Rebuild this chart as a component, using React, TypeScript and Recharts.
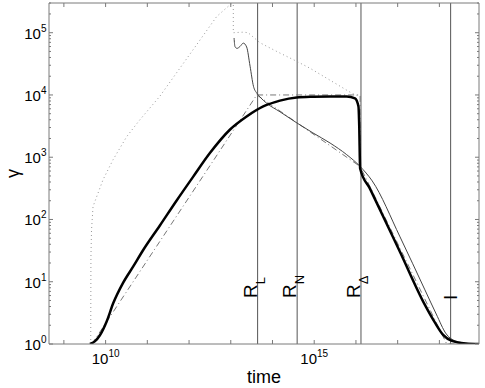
import { Line, LineChart, ReferenceLine, XAxis, YAxis } from 'recharts';

const FONT = '"Liberation Sans", Arial, Helvetica, sans-serif';
const AXIS = '#7a7a7a';

// axis ranges (log-log)
const X_MIN = 4.4e8;
const X_MAX = 8.9e18;
const Y_MIN = 1;
const Y_MAX = 3.0e5;

const xTickExps = [9, 10, 11, 12, 13, 14, 15, 16, 17, 18];
const xLabelExps = [10, 15];
const yTickExps = [0, 1, 2, 3, 4, 5];
const yMinorMults = [2, 3, 4, 5, 6, 7, 8, 9];

// thick curve
const thickT = [4.2e9, 5.5e9, 7.3e9, 1.06e10, 1.52e10, 2.6e10, 4.6e10, 7.9e10, 2.0e11, 5.0e11, 1.26e12, 3.16e12, 9.5e12, 2.4e13, 6.0e13, 1.51e14, 3.8e14, 9.5e14, 2.4e15, 6.0e15, 9.5e15, 1.15e16, 1.2e16, 1.26e16, 2.18e16, 1.14e17, 4.5e17, 7.9e17, 1.23e18, 2.0e18, 4.2e18, 8.9e18];
const thickG = [1, 1.1, 1.38, 2.3, 4.5, 9.5, 17.6, 32, 80, 200, 488, 1165, 2760, 4500, 6530, 8100, 9100, 9350, 9450, 9450, 8800, 6500, 3100, 660, 310, 30, 4.24, 2.18, 1.4, 1.12, 1.02, 1.0];

// thin curve
const thinT = [1.2e13, 1.26e13, 1.41e13, 1.66e13, 2.0e13, 2.4e13, 2.9e13, 3.5e13, 4.2e13, 5.0e13, 7.2e13, 1.51e14, 3.8e14, 9.3e14, 2.4e15, 6.0e15, 1.26e16, 2.45e16, 1.14e17, 4.5e17, 8.4e17, 1.46e18, 2.4e18, 5.0e18, 8.9e18];
const thinG = [82000, 60000, 56000, 60000, 68000, 59000, 29000, 13800, 10700, 9300, 7400, 5370, 3570, 2460, 1690, 1100, 710, 417, 52.5, 7.4, 3.03, 1.45, 1.12, 1.02, 1.0];

// dotted curve
const dotT = [4.4e9, 4.45e9, 4.6e9, 5.0e9, 8.7e9, 1.51e10, 3.2e10, 6.6e10, 2.0e11, 1.26e12, 4.6e12, 1.01e13, 1.15e13, 1.15e13, 2.0e13, 2.6e13, 5.0e13, 1.26e14, 3.8e14, 7.9e14, 7.9e15, 1.07e16];
const dotG = [1, 25, 68, 162, 437, 912, 2140, 3980, 9550, 53700, 182000, 290000, 290000, 100000, 102000, 100000, 69000, 50000, 34700, 26900, 10700, 9800];

// dash-dot approximations
const approxAT = [4.7e9, 4.2e13, 1.26e16, 1.26e16];
const approxAG = [1, 10000, 10000, 710];
const approxBT = [4.2e13, 1.26e16, 1.5e18, 8.9e18];
const approxBG = [10000, 710, 1, 1];

// vertical markers
const markT = [4.4e13, 3.9e14, 1.32e16, 1.86e18];
const markMain = ['R', 'R', 'R', 'I'];
const markSub = ['L', 'N', 'Δ', ''];

const toRows = (t: number[], g: number[]) => t.map((v, i) => ({ t: v, g: g[i] }));

const thick = toRows(thickT, thickG);
const thin = toRows(thinT, thinG);
const dotted = toRows(dotT, dotG);
const approxA = toRows(approxAT, approxAG);
const approxB = toRows(approxBT, approxBG);

const xTicks = xTickExps.map((e) => 10 ** e);
const yTicks = yTickExps
  .flatMap((e) => [10 ** e, ...yMinorMults.map((m) => m * 10 ** e)])
  .filter((v) => v <= Y_MAX);

const isDecade = (v: number) => Math.abs(Math.log10(v) - Math.round(Math.log10(v))) < 1e-6;

const BottomTick = ({ x, y, payload }: any) => {
  const e = Math.round(Math.log10(payload.value));
  return (
    <g>
      <line x1={x} x2={x} y1={y} y2={y - 4} stroke={AXIS} />
      {xLabelExps.includes(e) && (
        <text x={x} y={y + 20} textAnchor="middle" fontFamily={FONT} fontSize={15} fill="#000">
          10<tspan dy={-7} fontSize={10}>{e}</tspan>
        </text>
      )}
    </g>
  );
};

const TopTick = ({ x, y }: any) => <line x1={x} x2={x} y1={y} y2={y + 4} stroke={AXIS} />;

const LeftTick = ({ x, y, payload }: any) => {
  const major = isDecade(payload.value);
  const e = Math.round(Math.log10(payload.value));
  return (
    <g>
      <line x1={x} x2={x + (major ? 4 : 2)} y1={y} y2={y} stroke={AXIS} />
      {major && (
        <text x={x - 2.5} y={y + 6} textAnchor="end" fontFamily={FONT} fontSize={15} fill="#000">
          10<tspan dy={-7} fontSize={10}>{e}</tspan>
        </text>
      )}
    </g>
  );
};

const RightTick = ({ x, y, payload }: any) => {
  const major = isDecade(payload.value);
  return <line x1={x} x2={x - (major ? 4 : 2)} y1={y} y2={y} stroke={AXIS} />;
};

const MarkLabel = ({ viewBox, main, sub }: any) => {
  const { x, y, height } = viewBox;
  const isBar = main === 'I';
  const bx = isBar ? x + 6 : x - 1;
  const by = y + height - (isBar ? 44 : 46);
  return (
    <text transform={`translate(${bx},${by}) rotate(-90)`} fontFamily={FONT} fontSize={19} fill="#000">
      {main}
      {sub && (
        <tspan dy={8} fontSize={13}>
          {sub}
        </tspan>
      )}
    </text>
  );
};

const XTitle = ({ viewBox }: any) => (
  <text x={viewBox.x + viewBox.width / 2} y={viewBox.y + 39} textAnchor="middle" fontFamily={FONT} fontSize={18} fill="#000">
    time
  </text>
);

const YTitle = ({ viewBox }: any) => {
  const cy = viewBox.y + viewBox.height / 2;
  return (
    <text transform={`translate(19,${cy}) rotate(-90)`} textAnchor="middle" fontFamily={FONT} fontSize={18} fill="#000">
      γ
    </text>
  );
};

export default function App() {
  return (
    <div style={{ position: 'absolute', left: 0, top: 0, width: 485, height: 388, background: '#fff' }}>
      <LineChart width={485} height={388} margin={{ top: 0, right: 0, bottom: 0, left: 0 }}>
        <XAxis
          xAxisId="b"
          orientation="bottom"
          dataKey="t"
          type="number"
          scale="log"
          domain={[X_MIN, X_MAX]}
          allowDataOverflow
          ticks={xTicks}
          interval={0}
          tick={<BottomTick />}
          tickLine={false}
          tickSize={0}
          tickMargin={0}
          height={44}
          axisLine={{ stroke: AXIS }}
          label={<XTitle />}
        />
        <XAxis
          xAxisId="t"
          orientation="top"
          dataKey="t"
          type="number"
          scale="log"
          domain={[X_MIN, X_MAX]}
          allowDataOverflow
          ticks={xTicks}
          interval={0}
          tick={<TopTick />}
          tickLine={false}
          tickSize={0}
          tickMargin={0}
          height={3}
          axisLine={{ stroke: AXIS }}
        />
        <YAxis
          yAxisId="l"
          orientation="left"
          type="number"
          scale="log"
          domain={[Y_MIN, Y_MAX]}
          allowDataOverflow
          ticks={yTicks}
          interval={0}
          tick={<LeftTick />}
          tickLine={false}
          tickSize={0}
          tickMargin={0}
          width={49}
          axisLine={{ stroke: AXIS }}
          label={<YTitle />}
        />
        <YAxis
          yAxisId="r"
          orientation="right"
          type="number"
          scale="log"
          domain={[Y_MIN, Y_MAX]}
          allowDataOverflow
          ticks={yTicks}
          interval={0}
          tick={<RightTick />}
          tickLine={false}
          tickSize={0}
          tickMargin={0}
          width={6}
          axisLine={{ stroke: AXIS }}
        />
        {markT.map((t, i) => (
          <ReferenceLine
            key={i}
            x={t}
            xAxisId="b"
            yAxisId="l"
            stroke="#555"
            strokeWidth={1}
            label={<MarkLabel main={markMain[i]} sub={markSub[i]} />}
          />
        ))}
        <Line data={dotted} dataKey="g" xAxisId="b" yAxisId="l" type="linear" dot={false} stroke="#999" strokeWidth={1} strokeDasharray="1 3" isAnimationActive={false} />
        <Line data={approxA} dataKey="g" xAxisId="b" yAxisId="l" type="linear" dot={false} stroke="#777" strokeWidth={1} strokeDasharray="6 3 1 3" isAnimationActive={false} />
        <Line data={approxB} dataKey="g" xAxisId="b" yAxisId="l" type="linear" dot={false} stroke="#777" strokeWidth={1} strokeDasharray="6 3 1 3" isAnimationActive={false} />
        <Line data={thin} dataKey="g" xAxisId="b" yAxisId="l" type="monotone" dot={false} stroke="#444" strokeWidth={1} isAnimationActive={false} />
        <Line data={thick} dataKey="g" xAxisId="b" yAxisId="l" type="monotone" dot={false} stroke="#000" strokeWidth={2.5} isAnimationActive={false} />
      </LineChart>
    </div>
  );
}
